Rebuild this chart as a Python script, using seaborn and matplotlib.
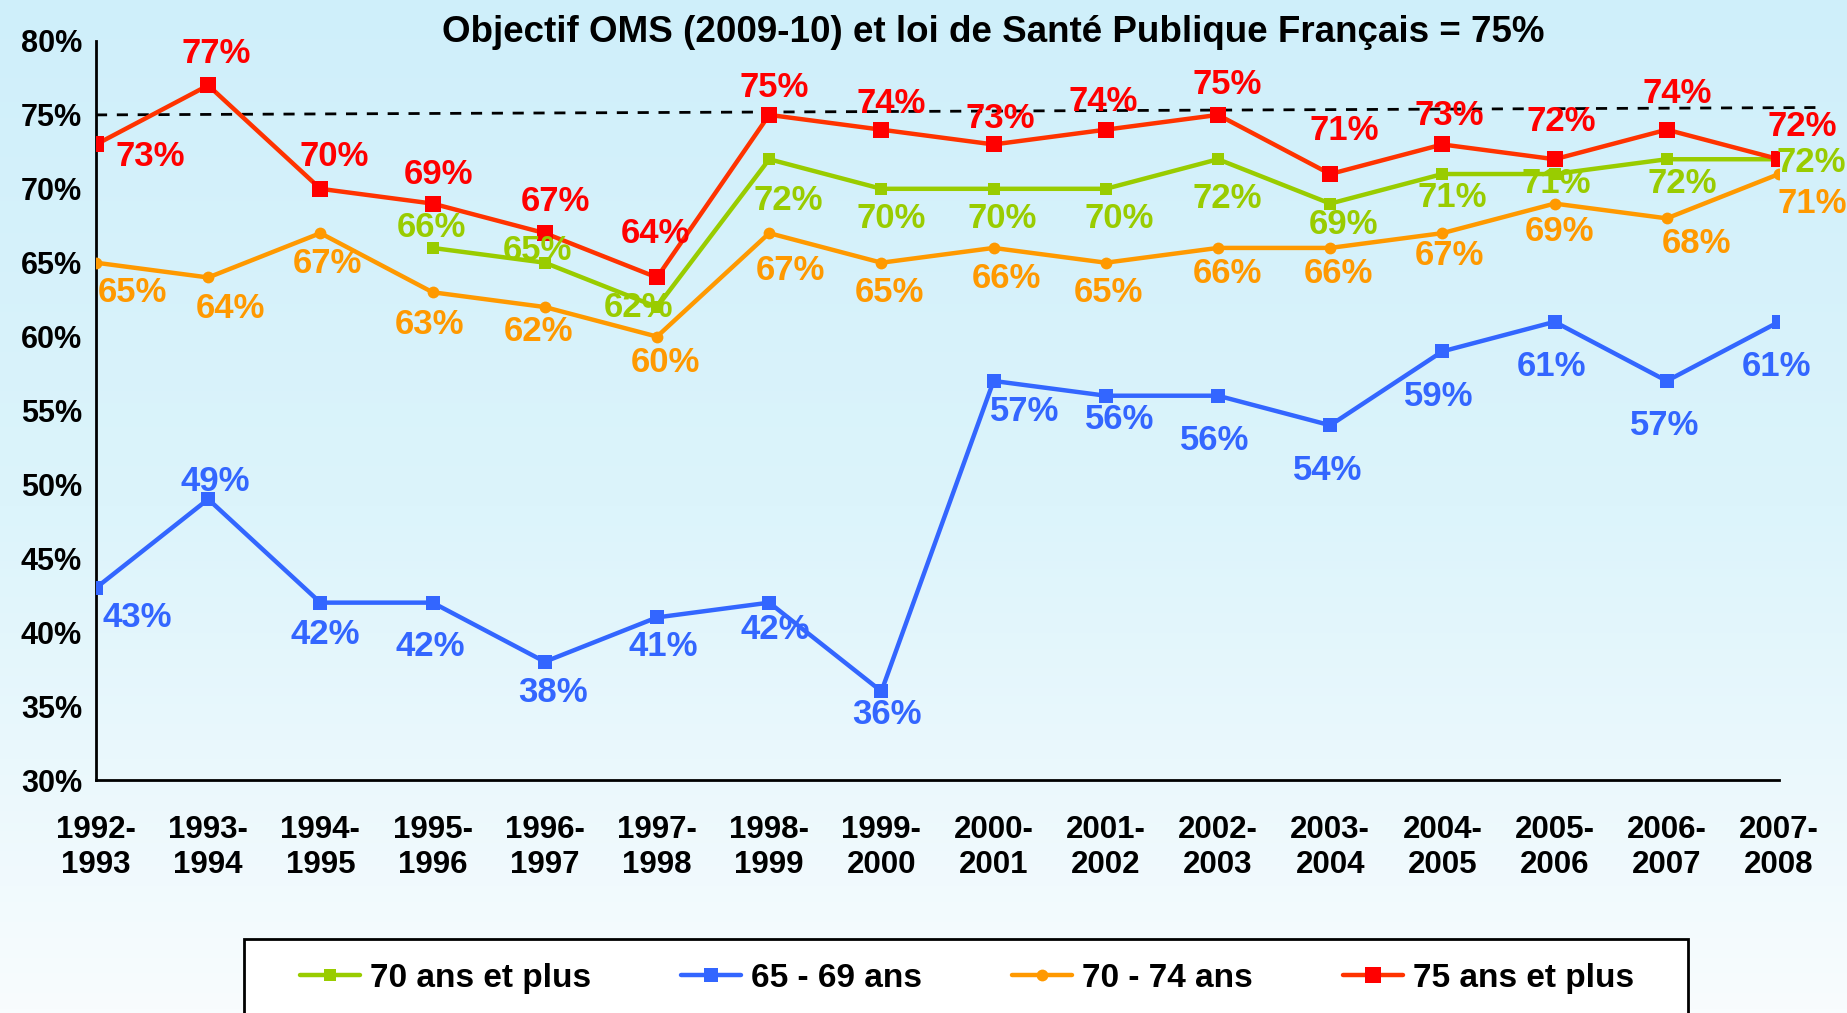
import numpy as np
import pandas as pd
import matplotlib
matplotlib.use("Agg")
import matplotlib.pyplot as plt
import seaborn as sns
from matplotlib.patches import Rectangle
from matplotlib.colors import LinearSegmentedColormap

# ---------------- data ----------------
periods = ["1992-\n1993", "1993-\n1994", "1994-\n1995", "1995-\n1996", "1996-\n1997",
           "1997-\n1998", "1998-\n1999", "1999-\n2000", "2000-\n2001", "2001-\n2002",
           "2002-\n2003", "2003-\n2004", "2004-\n2005", "2005-\n2006", "2006-\n2007",
           "2007-\n2008"]
nan = np.nan
vals_70_plus = [nan, nan, nan, 66, 65, 62, 72, 70, 70, 70, 72, 69, 71, 71, 72, 72]
vals_65_69 = [43, 49, 42, 42, 38, 41, 42, 36, 57, 56, 56, 54, 59, 61, 57, 61]
vals_70_74 = [65, 64, 67, 63, 62, 60, 67, 65, 66, 65, 66, 66, 67, 69, 68, 71]
vals_75_plus = [73, 77, 70, 69, 67, 64, 75, 74, 73, 74, 75, 71, 73, 72, 74, 72]
series_names = ["70 ans et plus", "65 - 69 ans", "70 - 74 ans", "75 ans et plus"]
target_start, target_end = 75.0, 75.5
title = "Objectif OMS (2009-10) et loi de Santé Publique Français = 75%"
yticks = [30, 35, 40, 45, 50, 55, 60, 65, 70, 75, 80]

# ---------------- label placement (style, in px) ----------------
off_75 = [(46, 10), (7, -27), (12, -27), (5, -25), (9, -27), (-1, -37), (4, -23), (8, -22),
          (6, -22), (-2, -24), (8, -26), (12, -37), (6, -25), (6, -32), (9, -31), (20, -28)]
off_70p = [None, None, None, (-1, -17), (-6, -10), (-16, 0), (16, 35), (8, 25), (7, 25),
           (11, 25), (8, 33), (11, 18), (8, 20), (1, 8), (13, 21), (27, 3)]
off_7074 = [(31, 25), (19, 26), (6, 26), (-3, 27), (-5, 21), (7, 22), (18, 32), (7, 25),
            (11, 26), (2, 25), (8, 22), (7, 22), (6, 19), (4, 24), (25, 21), (28, 25)]
off_6569 = [(35, 25), (6, -15), (4, 27), (-2, 37), (7, 26), (5, 25), (5, 23), (5, 20),
            (26, 26), (12, 20), (-3, 38), (-2, 38), (-3, 38), (-3, 38), (-2, 38), (-2, 38)]

SC = 1847 / 1568

styles = {
    "70 ans et plus": dict(vals=vals_70_plus, line="#99CC00", mk="#99CC00", marker="s", ms=9, txt="#99CC00", off=off_70p),
    "65 - 69 ans": dict(vals=vals_65_69, line="#3366FF", mk="#3366FF", marker="s", ms=10.5, txt="#3366FF", off=off_6569),
    "70 - 74 ans": dict(vals=vals_70_74, line="#FF9900", mk="#FF9900", marker="o", ms=8.5, txt="#FF9900", off=off_7074),
    "75 ans et plus": dict(vals=vals_75_plus, line="#FF3300", mk="#FF0000", marker="s", ms=12, txt="#FF0000", off=off_75),
}

sns.set_theme(style="white")
plt.rcParams["font.family"] = ["Liberation Sans", "DejaVu Sans"]
plt.rcParams["text.color"] = "black"
plt.rcParams["xtick.color"] = "black"
plt.rcParams["ytick.color"] = "black"
plt.rcParams["axes.labelcolor"] = "black"

fig = plt.figure(figsize=(18.47, 10.13), dpi=100)

# background gradient
bg = fig.add_axes([0, 0, 1, 1], zorder=-10)
grad = np.linspace(0, 1, 256).reshape(-1, 1)
cmap = LinearSegmentedColormap.from_list("bg", ["#cfeffa", "#dcf4fb", "#f8fcfe"])
bg.imshow(grad, aspect="auto", cmap=cmap, extent=[0, 1, 0, 1], origin="upper")
bg.set_axis_off()

ax = fig.add_axes([96 / 1847, 1 - 780 / 1013, (1779 - 96) / 1847, (780 - 41) / 1013])
ax.patch.set_alpha(0)

x = np.arange(len(periods))
for name in series_names:
    st = styles[name]
    df = pd.DataFrame({"x": x, "y": st["vals"]}).dropna()
    sns.lineplot(data=df, x="x", y="y", ax=ax, color=st["line"], linewidth=3.2,
                 marker=st["marker"], markersize=st["ms"], markerfacecolor=st["mk"],
                 markeredgecolor=st["mk"], markeredgewidth=0, label=name, zorder=3)
    for xi, yi, off in zip(x, st["vals"], st["off"]):
        if off is None or np.isnan(yi):
            continue
        ax.annotate(f"{int(yi)}%", (xi, yi), xytext=(off[0] * SC, -off[1] * SC),
                    textcoords="offset pixels", ha="center", va="center",
                    fontsize=25, fontweight="bold", color=st["txt"], zorder=5,
                    annotation_clip=False)

# target line
ax.plot([0, 15.38], [target_start, target_end], ls=(0, (4, 3.5)), color="black",
        lw=2, clip_on=False, zorder=2)

ax.set_xlim(0, 15)
ax.set_ylim(30, 80)
ax.set_xticks(x)
ax.set_xticklabels(periods, fontsize=22.5, fontweight="bold", linespacing=1.25, color="black")
ax.set_yticks(yticks)
ax.set_yticklabels([f"{t}%" for t in yticks], fontsize=22, fontweight="bold", color="black")
ax.set_xlabel("")
ax.set_ylabel("")
for s in ["top", "right"]:
    ax.spines[s].set_visible(False)
for s in ["left", "bottom"]:
    ax.spines[s].set_color("black")
    ax.spines[s].set_linewidth(2)
ax.tick_params(axis="x", direction="out", length=9, width=1.5, color="black", pad=16)
ax.tick_params(axis="y", direction="out", length=8, width=1.5, color="black", pad=2)
ax.grid(False)

handles, labels = ax.get_legend_handles_labels()
if ax.legend_:
    ax.legend_.remove()

# legend box
fig.patches.append(Rectangle((244 / 1847, -0.05), (1688 - 244) / 1847, 0.05 + 1 - 939 / 1013,
                             transform=fig.transFigure, facecolor="white",
                             edgecolor="black", linewidth=2, zorder=0))
fig.legend(handles, labels, loc="center", bbox_to_anchor=(967 / 1847, 1 - 978 / 1013),
           ncol=4, frameon=False, handlelength=1.8, handletextpad=0.3,
           columnspacing=2.7, numpoints=1, labelcolor="black",
           prop=dict(size=24, weight="bold"))

fig.text(993 / 1847, 1 - 32 / 1013, title, ha="center", va="center",
         fontsize=26.5, fontweight="bold", color="black")

fig.savefig("out.png", dpi=100)
